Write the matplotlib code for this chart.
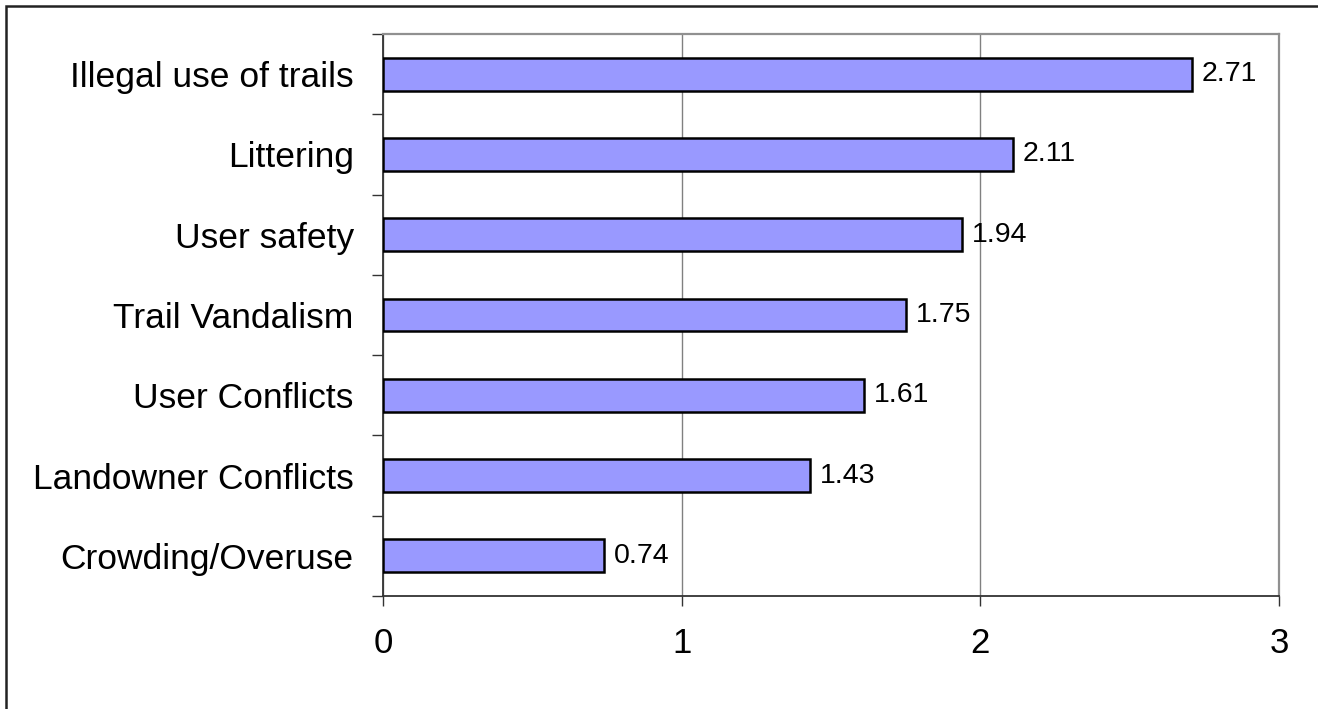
import matplotlib
matplotlib.use("Agg")
import matplotlib.pyplot as plt
from matplotlib.patches import Rectangle
import numpy as np

plt.rcParams['font.family'] = ['Liberation Sans', 'DejaVu Sans']

categories = ["Illegal use of trails", "Littering", "User safety", "Trail Vandalism",
              "User Conflicts", "Landowner Conflicts", "Crowding/Overuse"]
values = [2.71, 2.11, 1.94, 1.75, 1.61, 1.43, 0.74]
xticks = [0, 1, 2, 3]

W, H = 1318, 709
dpi = 100
fig = plt.figure(figsize=(W / dpi, H / dpi), dpi=dpi)
fig.patch.set_facecolor('white')

# outer frame (extends beyond right/bottom edges)
fig.patches.append(Rectangle((6 / W, -0.1), 1.2, 1 - 6 / H + 0.1, transform=fig.transFigure,
                             fill=False, edgecolor='#222222', linewidth=1.8, zorder=0))

ax = fig.add_axes([383 / W, 1 - 596 / H, (1279 - 383) / W, (596 - 34) / H])

n = len(categories)
ypos = np.arange(n)
ax.barh(ypos, values, height=0.41, color='#9999FF', edgecolor='black', linewidth=1.8, zorder=3)

for y, v in zip(ypos, values):
    ax.annotate(f"{v:.2f}", xy=(v, y), xytext=(7, 0), textcoords='offset points',
                va='center', ha='left', fontsize=20.5, color='black', zorder=4)

ax.set_xlim(0, 3)
ax.set_ylim(n - 0.5, -0.5)
ax.set_xticks(xticks)
ax.set_xticklabels([str(t) for t in xticks], fontsize=25)
ax.set_yticks(ypos)
ax.set_yticklabels(categories, fontsize=25.5)
ax.set_yticks(np.arange(n + 1) - 0.5, minor=True)

ax.tick_params(axis='y', which='major', length=0, pad=21)
ax.tick_params(axis='y', which='minor', length=8, width=1, color='#333333', direction='out')
ax.tick_params(axis='x', which='major', length=7.5, width=1, color='#333333', direction='out', pad=15)

ax.grid(axis='x', color='#808080', linewidth=1, zorder=1)
ax.set_axisbelow(True)

for s in ['top', 'right']:
    ax.spines[s].set_color('#909090')
    ax.spines[s].set_linewidth(1.6)
for s in ['left', 'bottom']:
    ax.spines[s].set_color('#333333')
    ax.spines[s].set_linewidth(1.3)

fig.savefig('out.png', dpi=dpi, facecolor='white')
